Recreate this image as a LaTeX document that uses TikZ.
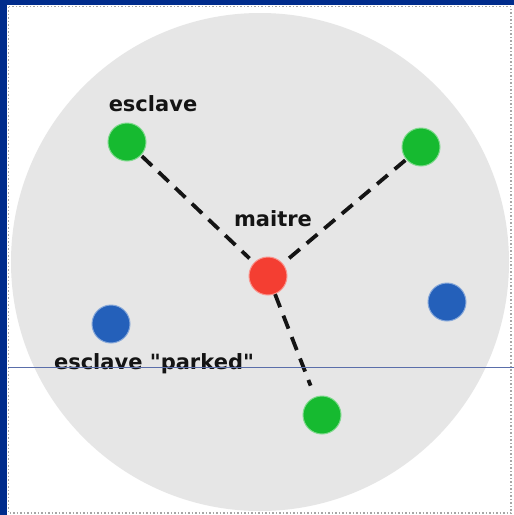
\documentclass[tikz,border=0pt]{standalone}
\usepackage{fontspec}
\newfontfamily\lblfont{DejaVu Sans}
\definecolor{frameblue}{RGB}{0,44,140}
\definecolor{discgray}{RGB}{230,230,230}
\definecolor{slavegreen}{RGB}{22,186,48}
\definecolor{masterred}{RGB}{244,62,50}
\definecolor{parkblue}{RGB}{36,96,186}
\definecolor{rulecol}{RGB}{90,110,170}
\tikzset{
  dot/.style={circle, inner sep=0pt, minimum size=38pt, draw=#1!55!white, line width=1pt, fill=#1},
  lbl/.style={font=\lblfont\bfseries\fontsize{21}{23}\selectfont, text=black!92, inner sep=0pt},
  link/.style={line width=3.8pt, dash pattern=on 14pt off 9pt, black!92}
}
\begin{document}
\begin{tikzpicture}[x=1pt,y=-1pt]
\useasboundingbox (0,0) rectangle (514,515);
\fill[white] (0,0) rectangle (514,515);
\fill[frameblue] (0,0) rectangle (514,5);
\fill[frameblue] (0,0) rectangle (7,515);
\draw[gray!70, dotted, line width=1.5pt] (8.5,6.5) rectangle (511,513);
\fill[discgray] (260,262) circle (249);
\node[dot=slavegreen] (s1) at (127,142) {};
\node[dot=slavegreen] (s2) at (421,147) {};
\node[dot=masterred] (m) at (268,276) {};
\node[dot=parkblue] (p1) at (447,302) {};
\node[dot=parkblue] (p2) at (111,324) {};
\node[dot=slavegreen] (s3) at (322,415) {};
\draw[link, shorten <=1pt, shorten >=6pt] (s1) -- (m);
\draw[link, shorten <=1pt, shorten >=4pt] (s2) -- (m);
\draw[link, shorten <=0pt, shorten >=12pt] (m) -- (s3);
\node[lbl] (l1) at (153,104) {esclave};
\node[lbl] (l2) at (273,219) {maitre};
\node[lbl] (l3) at (154,364) {esclave "parked"};
\coordinate (r1) at (8,367);
\coordinate (r2) at (514,367);
\draw[rulecol, line width=0.8pt] (r1) -- (r2);
\end{tikzpicture}
\end{document}
